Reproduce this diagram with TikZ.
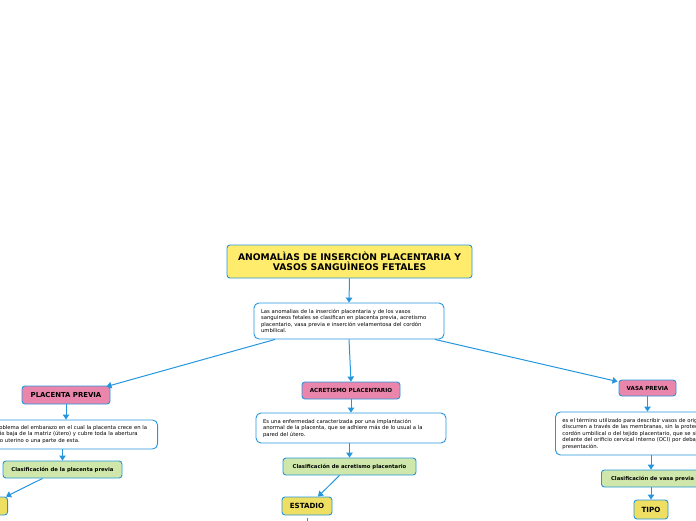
\documentclass[tikz,border=0pt]{standalone}
\usepackage{fontspec}
\setmainfont{DejaVu Sans}
\usetikzlibrary{arrows.meta,calc}

\definecolor{mapblue}{HTML}{2496DE}
\definecolor{titleyellow}{HTML}{FFEC6C}
\definecolor{kindyellow}{HTML}{EEDF63}
\definecolor{headpink}{HTML}{EA86AB}
\definecolor{clasgreen}{HTML}{CFE7AA}

\tikzset{
  box/.style={draw=mapblue, line width=0.9pt, rounded corners=3pt, inner sep=0pt},
  titlebox/.style={box, fill=titleyellow, font=\fontsize{9.2}{10.5}\selectfont\bfseries, align=center},
  headbox/.style={box, fill=headpink, font=\fontsize{6.9}{7}\selectfont\bfseries},
  smallhead/.style={headbox, font=\fontsize{5.6}{6}\selectfont\bfseries},
  descbox/.style={box, fill=white, rounded corners=5pt, font=\fontsize{5.3}{6.5}\selectfont, align=left, inner xsep=7pt},
  clasbox/.style={box, fill=clasgreen, font=\fontsize{5.3}{6}\selectfont\bfseries},
  kindbox/.style={box, fill=kindyellow, font=\fontsize{7.1}{8}\selectfont\bfseries},
  link/.style={draw=mapblue, line width=1pt, -{Triangle[length=5pt,width=6.5pt]}}
}

\begin{document}
\begin{tikzpicture}[x=1pt,y=-1pt]
\useasboundingbox (0,0) rectangle (696,520);
\clip (0,0) rectangle (696,520);

% title and introduction
\node[titlebox, minimum width=245, minimum height=33] (title) at (349.5,261.5)
  {ANOMAL\`IAS DE INSERCI\`ON PLACENTARIA Y\\VASOS SANGU\`INEOS FETALES};
\node[descbox, minimum width=190, minimum height=36, text width=176] (intro) at (349,321)
  {Las anomalias de la inserción placentaria y de los vasos\\
   sanguineos fetales se clasifican en placenta previa, acretismo\\
   placentario, vasa previa e inserción velamentosa del cordón\\
   umbilical.};

% placenta previa
\node[headbox, minimum width=88, minimum height=18] (pp) at (66,395) {PLACENTA PREVIA};
\node[descbox, minimum height=29, text width=173, anchor=east] (ppdesc) at (158,434.5)
  {Es un problema del embarazo en el cual la placenta crece en la\\
   parte más baja de la matriz (útero) y cubre toda la abertura\\
   del cuello uterino o una parte de esta.};
\node[clasbox, minimum width=119, minimum height=17] (ppclas) at (62.5,469.5)
  {Clasificación de la placenta previa};
\node[kindbox, minimum width=40, minimum height=18, anchor=east] (ppkind) at (8,506) {};

% acretismo placentario
\node[smallhead, minimum width=98, minimum height=17] (acr) at (351,390.5) {ACRETISMO PLACENTARIO};
\node[descbox, minimum width=190, minimum height=30, text width=176] (acrdesc) at (351,428)
  {Es una enfermedad caracterizada por una implantación\\
   anormal de la placenta, que se adhiere más de lo usual a la\\
   pared del útero.};
\node[clasbox, minimum width=133, minimum height=17] (acrclas) at (349.5,466.5)
  {Clasificación de acretismo placentario};
\node[kindbox, minimum width=50, minimum height=18] (estadio) at (307,506) {ESTADIO};
\coordinate (estbelow) at (307,545);

% vasa previa
\node[smallhead, minimum width=57, minimum height=16] (vp) at (647.5,388) {VASA PREVIA};
\node[descbox, minimum width=190, minimum height=43, text width=190, anchor=west] (vpdesc) at (555,433.5)
  {es el término utilizado para describir vasos de origen fetal que\\
   discurren a través de las membranas, sin la protección del\\
   cordón umbilical o del tejido placentario, que se sitúan por\\
   delante del orificio cervical interno (OCI) por debajo de la\\
   presentación.};
\node[clasbox, minimum width=102, minimum height=17, anchor=west, inner xsep=8pt] (vpclas) at (601,478.5)
  {Clasificación de vasa previa};
\node[kindbox, minimum width=34, minimum height=19] (tipo) at (651,509.5) {TIPO};

% connectors
\draw[link] (title.south) -- (intro.north);
\draw[link] ([xshift=-74pt]intro.south) -- ([xshift=-4pt,yshift=-1pt]pp.north east);
\draw[link] (intro.south) -- (acr.north);
\draw[link] ([xshift=86pt]intro.south) -- ([xshift=-1pt,yshift=-2pt]vp.north west);

\draw[link] (pp.south) -- (pp.south |- ppdesc.north);
\draw[link] (ppclas.north |- ppdesc.south) -- (ppclas.north);
\draw[link] ([xshift=-20pt]ppclas.south) -- ([xshift=-2pt]ppkind.north east);

\draw[link] (acr.south) -- (acr.south |- acrdesc.north);
\draw[link] (acrclas.north |- acrdesc.south) -- (acrclas.north);
\draw[link] ([xshift=-10pt]acrclas.south) -- ([xshift=11pt]estadio.north);
\draw[link, shorten <=2.5pt] (estadio.south) -- (estbelow);

\draw[link] (vp.south) -- (vp.south |- vpdesc.north);
\draw[link] (tipo.north |- vpdesc.south) -- (tipo.north |- vpclas.north);
\draw[link] (tipo.north |- vpclas.south) -- (tipo.north);
\end{tikzpicture}
\end{document}
